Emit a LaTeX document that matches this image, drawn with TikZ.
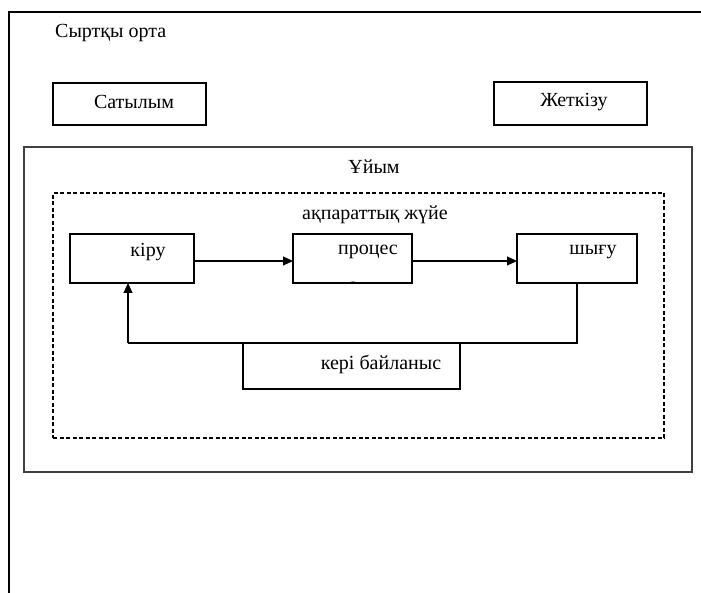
\documentclass[tikz,border=0pt]{standalone}
\usepackage{fontspec}
\setmainfont{Liberation Serif}
\usetikzlibrary{arrows.meta}
\begin{document}
\begin{tikzpicture}[x=1pt,y=-1pt,
  box/.style={draw=black,line width=1.1pt,inner sep=0pt,outer sep=0pt,fill=none},
  orgbox/.style={draw=black!75,line width=1.6pt,inner sep=0pt,outer sep=0pt},
  dashbox/.style={draw=black,line width=1.1pt,dash pattern=on 4pt off 2.5pt,inner sep=0pt,outer sep=0pt},
  lbl/.style={inner sep=0pt,font=\fontsize{20}{23}\selectfont},
  flow/.style={line width=1.1pt,-{Triangle[length=10pt,width=9pt]}},
  fb/.style={line width=1.1pt}]
\useasboundingbox (0,0) rectangle (701,593);
% outer frame (cut at right and bottom)
\coordinate (fbl) at (9,593);
\coordinate (ftl) at (9,12);
\coordinate (ftr) at (701,12);
\draw[line width=1.3pt] (fbl) -- (ftl) -- (ftr);
\node[lbl,anchor=west] (env) at (55,33) {Сыртқы орта};
% top boxes
\node[box,minimum width=153pt,minimum height=42pt] (sat) at (129.5,104) {};
\node[lbl] (satt) at (134,102) {Сатылым};
\node[box,minimum width=153pt,minimum height=43pt] (zhet) at (570.5,103.5) {};
\node[lbl] (zhett) at (574,102) {Жеткізу};
% organisation
\node[orgbox,minimum width=668pt,minimum height=325pt] (org) at (358,309.5) {};
\node[lbl] (orgt) at (374,167) {Ұйым};
% information system
\node[dashbox,minimum width=611pt,minimum height=245pt] (is) at (358.5,315.5) {};
\node[lbl] (ist) at (375,215) {ақпараттық жүйе};
% process boxes
\node[box,minimum width=124pt,minimum height=49pt] (kiru) at (132,258.5) {};
\node[lbl] (kirut) at (148,252) {кіру};
\node[box,minimum width=119pt,minimum height=49pt] (proc) at (352.5,258.5) {};
\begin{scope}
\clip (proc.south west) rectangle (proc.north east);
\node[lbl] (proct) at (368,252) {процес};
\node[lbl,anchor=base] (procs) at (352,292) {с};
\end{scope}
\node[box,minimum width=120pt,minimum height=49pt] (shygu) at (577,258.5) {};
\node[lbl] (shygut) at (593,252) {шығу};
\node[box,minimum width=217pt,minimum height=46pt] (keri) at (351.5,366) {};
\node[lbl] (kerit) at (381,364) {кері байланыс};
% connectors
\draw[flow] ([yshift=-2.5pt]kiru.east) -- ([yshift=-2.5pt]proc.west);
\draw[flow] ([yshift=-2.5pt]proc.east) -- ([yshift=-2.5pt]shygu.west);
\coordinate (fbr) at (shygu.south |- keri.north);
\coordinate (fbl2) at ([xshift=-4pt]kiru.south |- keri.north);
\draw[fb] (shygu.south) -- (fbr) -- (fbl2);
\draw[flow] (fbl2) -- ([xshift=-4pt]kiru.south);
\end{tikzpicture}
\end{document}
